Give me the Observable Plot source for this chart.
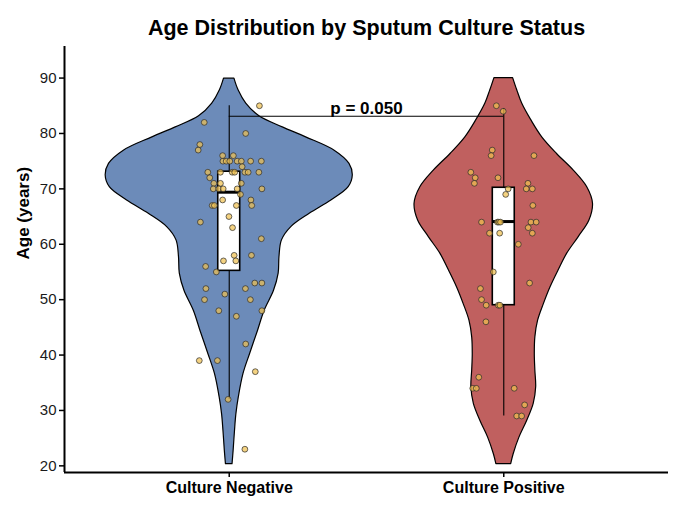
<!DOCTYPE html>
<html><head><meta charset="utf-8">
<script src="https://cdn.jsdelivr.net/npm/d3@7"></script>
<script src="https://cdn.jsdelivr.net/npm/@observablehq/plot@0.6"></script>
<style>body{margin:0;background:#fff;overflow:hidden}</style>
</head><body><div id="chart"></div>
<script>
// ---- data ----
const categories = ["Culture Negative", "Culture Positive"];
const yTicks = [20, 30, 40, 50, 60, 70, 80, 90];
const title = "Age Distribution by Sputum Culture Status";
const yLabel = "Age (years)";
const pLabel = "p = 0.050";
const bracketAge = 83.1;

// violin half-width profiles (category units)
const negProfileAge   = [89.9, 87.8, 85.4, 83.1, 81.1, 79.3, 76.9, 74.5, 72.4, 70.3, 67.9, 65.5, 63.1, 60.7, 57.7, 54.7, 51.6, 48.0, 44.4, 40.2, 36.6, 32.4, 29.3, 26.3, 22.7, 20.3];
const negProfileWidth = [0.019, 0.034, 0.062, 0.110, 0.195, 0.280, 0.384, 0.438, 0.450, 0.435, 0.372, 0.293, 0.226, 0.192, 0.183, 0.180, 0.163, 0.129, 0.105, 0.076, 0.052, 0.035, 0.026, 0.021, 0.016, 0.012];
const posProfileAge   = [90.0, 87.8, 85.4, 82.4, 79.3, 76.3, 73.3, 70.3, 67.3, 64.3, 61.3, 58.3, 55.3, 52.2, 49.2, 46.2, 43.2, 40.2, 37.2, 34.2, 31.2, 28.1, 25.1, 22.1, 20.3];
const posProfileWidth = [0.034, 0.049, 0.067, 0.100, 0.140, 0.194, 0.255, 0.304, 0.325, 0.312, 0.273, 0.231, 0.200, 0.170, 0.146, 0.125, 0.115, 0.113, 0.115, 0.118, 0.109, 0.085, 0.057, 0.036, 0.027];

// box stats: [lower whisker, q1, median, q3, upper whisker]
const negBox = [32, 55.2, 69.4, 73.1, 85];
const posBox = [29, 49, 64.1, 70.2, 84.5];

// jittered points
const negAges   = [85, 82, 80, 78, 77, 76, 76, 75, 75, 75, 75, 75, 75, 75, 74, 73, 73, 73, 73, 73, 73, 73, 72, 71, 71, 71, 70, 70, 70, 70, 70, 69, 68, 68, 67, 67, 67, 67, 65, 64, 63, 61, 58, 58, 57, 57, 56, 55, 53, 53, 52, 52, 51, 50, 50, 48, 48, 47, 42, 39, 39, 37, 32, 23];
const negJitter = [0.110, -0.091, 0.060, -0.107, -0.113, -0.024, 0.015, -0.023, -0.011, 0.002, 0.029, 0.044, 0.078, 0.117, 0.047, -0.078, -0.032, 0.011, 0.020, 0.057, 0.069, 0.108, -0.071, -0.056, -0.032, 0.044, -0.058, -0.038, -0.022, 0.029, 0.119, 0.041, -0.024, 0.079, -0.062, -0.054, 0.026, 0.082, -0.001, -0.105, 0.012, 0.117, 0.018, 0.081, -0.021, 0.024, -0.086, -0.047, 0.093, 0.119, -0.085, 0.059, -0.016, -0.090, 0.077, -0.038, 0.119, 0.026, 0.060, -0.109, -0.043, 0.095, -0.004, 0.057];
const posAges   = [85, 84, 77, 76, 76, 73, 72, 72, 71, 71, 70, 70, 70, 69, 67, 64, 64, 64, 64, 64, 64, 63, 62, 62, 62, 60, 55, 53, 52, 50, 49, 49, 49, 46, 36, 34, 34, 34, 31, 29, 29];
const posJitter = [-0.027, -0.002, -0.042, -0.046, 0.110, -0.120, -0.104, -0.021, -0.107, 0.088, 0.016, 0.082, 0.104, 0.007, 0.106, -0.081, -0.023, -0.018, -0.012, 0.099, 0.118, 0.089, -0.052, -0.015, 0.104, 0.053, -0.038, 0.094, -0.085, -0.081, -0.064, -0.020, -0.014, -0.065, -0.091, -0.113, -0.100, 0.038, 0.076, 0.047, 0.065];

// ---- build tables ----
const colors = ["#6C8BB9", "#C0605F"];
const profiles = [
  negProfileAge.map((a, i) => ({g: 0, age: a, w: negProfileWidth[i]})),
  posProfileAge.map((a, i) => ({g: 1, age: a, w: posProfileWidth[i]}))
];
const boxes = [negBox, posBox].map((b, g) => ({g, lo: b[0], q1: b[1], med: b[2], q3: b[3], hi: b[4]}));
const points = [
  ...negAges.map((a, i) => ({g: 0, age: a, j: negJitter[i]})),
  ...posAges.map((a, i) => ({g: 1, age: a, j: posJitter[i]}))
];
const cx = g => g + 1;
const boxHalf = 0.04;

const font = "'Liberation Sans', Arial, Helvetica, sans-serif";

const chart = Plot.plot({
  width: 686,
  height: 514,
  marginTop: 46,
  marginRight: 18,
  marginBottom: 42,
  marginLeft: 64,
  style: {fontFamily: font, background: "#fff"},
  x: {type: "linear", domain: [0.4, 2.6]},
  y: {domain: [18.8, 95.7]},
  marks: [
    ...profiles.map((p, g) => Plot.areaX(p, {
      y: "age",
      x1: d => cx(d.g) - d.w,
      x2: d => cx(d.g) + d.w,
      fill: colors[g],
      stroke: "black",
      strokeWidth: 1.2,
      curve: "catmull-rom"
    })),
    // whiskers
    Plot.ruleX(boxes, {x: d => cx(d.g), y1: "lo", y2: "q1", stroke: "black", strokeWidth: 1.1}),
    Plot.ruleX(boxes, {x: d => cx(d.g), y1: "q3", y2: "hi", stroke: "black", strokeWidth: 1.1}),
    // bracket
    Plot.ruleY([bracketAge], {x1: 1, x2: 2, stroke: "black", strokeWidth: 1.1}),
    // boxes
    Plot.rect(boxes, {x1: d => cx(d.g) - boxHalf, x2: d => cx(d.g) + boxHalf, y1: "q1", y2: "q3", fill: "white", stroke: "black", strokeWidth: 1.6}),
    Plot.ruleY(boxes, {y: "med", x1: d => cx(d.g) - boxHalf, x2: d => cx(d.g) + boxHalf, stroke: "black", strokeWidth: 3}),
    // points
    Plot.dot(points, {x: d => cx(d.g) + d.j, y: "age", r: 2.9, fill: "#F0C050", fillOpacity: 0.72, stroke: "#2a2a2a", strokeWidth: 0.7}),
    // p-value
    Plot.text([pLabel], {x: 1.5, y: bracketAge, text: d => d, dy: -8, fontSize: 17, fontWeight: "bold", fill: "black"}),
    // axes
    Plot.ruleX([0.4], {stroke: "black", strokeWidth: 2}),
    Plot.ruleY([18.8], {stroke: "black", strokeWidth: 2}),
    Plot.axisY({ticks: yTicks, tickSize: 5, tickPadding: 3, fontSize: 15, stroke: "black", strokeWidth: 1.5, fill: "#1a1a1a", label: null}),
    Plot.axisX({ticks: [1, 2], tickFormat: d => categories[d - 1], tickSize: 5, tickPadding: 4, fontSize: 16, fontWeight: "bold", stroke: "black", strokeWidth: 1.5, fill: "black", label: null}),
    // titles
    Plot.text([title], {frameAnchor: "top", text: d => d, dy: -27, fontSize: 21.5, fontWeight: "bold", fill: "black"}),
    Plot.text([yLabel], {frameAnchor: "left", text: d => d, rotate: -90, dx: -41, fontSize: 17, fontWeight: "bold", fill: "black"})
  ]
});
document.getElementById("chart").appendChild(chart);
</script></body></html>
